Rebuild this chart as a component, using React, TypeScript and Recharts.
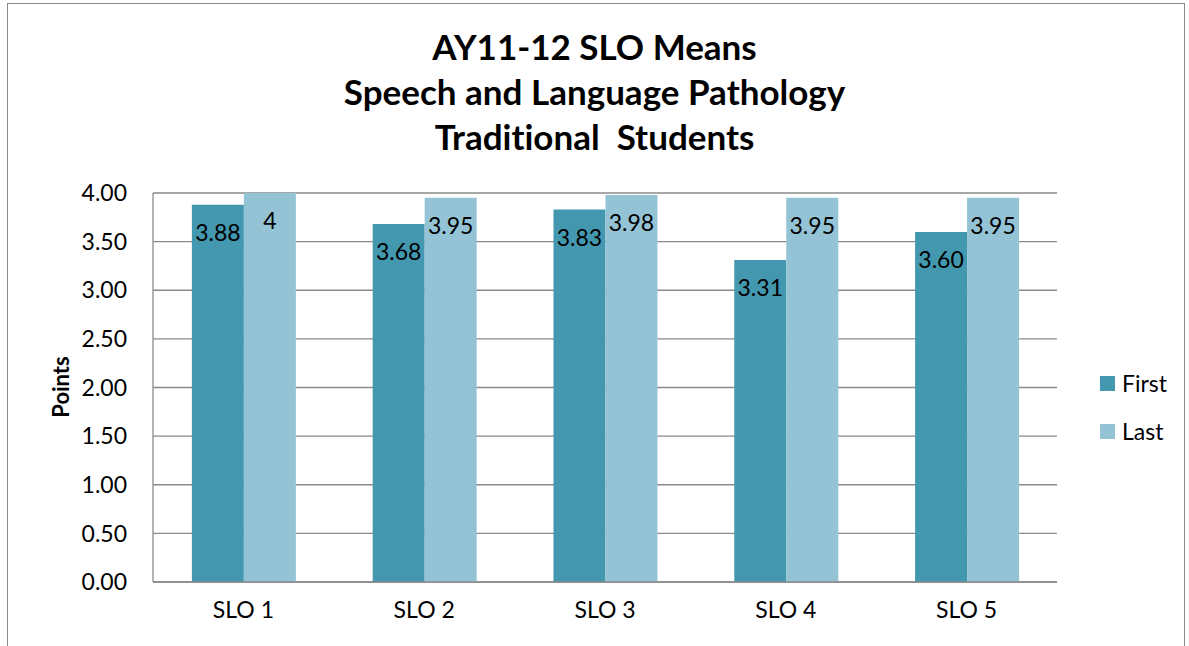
import { BarChart, Bar, XAxis, YAxis, CartesianGrid, LabelList } from 'recharts'

const categories = ['SLO 1', 'SLO 2', 'SLO 3', 'SLO 4', 'SLO 5']
const firstValues = [3.88, 3.68, 3.83, 3.31, 3.6]
const lastValues = [4, 3.95, 3.98, 3.95, 3.95]
const firstLabels = ['3.88', '3.68', '3.83', '3.31', '3.60']
const lastLabels = ['4', '3.95', '3.98', '3.95', '3.95']
const yTicks = [0, 0.5, 1, 1.5, 2, 2.5, 3, 3.5, 4]
const titleLines = ['AY11-12 SLO Means', 'Speech and Language Pathology', 'Traditional  Students']
const seriesNames = ['First', 'Last']

const FIRST_COLOR = '#4398b0'
const LAST_COLOR = '#93c3d5'
const GRID = '#8a8a8a'
const FONT = 'Lato, "Open Sans", sans-serif'

const data = categories.map((name, i) => ({
  name,
  first: firstValues[i],
  last: lastValues[i],
  firstLabel: firstLabels[i],
  lastLabel: lastLabels[i],
}))

function BarLabel(props: any) {
  const { x, y, width, value } = props
  return (
    <text x={x + width / 2} y={y + 36} textAnchor="middle" fontSize={23} fontFamily={FONT} fill="#000">
      {value}
    </text>
  )
}

function LegendBox() {
  const colors = [FIRST_COLOR, LAST_COLOR]
  return (
    <div style={{ position: 'absolute', left: 1100, top: 359, fontFamily: FONT, fontSize: 23 }}>
      {seriesNames.map((label, i) => (
        <div key={label} style={{ display: 'flex', alignItems: 'center', height: 48 }}>
          <span style={{ width: 15, height: 15, background: colors[i], marginRight: 7 }} />
          <span>{label}</span>
        </div>
      ))}
    </div>
  )
}

export default function App() {
  return (
    <div style={{ position: 'absolute', left: 0, top: 0, width: 1189, height: 646, background: '#fff', overflow: 'hidden' }}>
      <div
        style={{
          position: 'absolute',
          left: 7,
          top: 3,
          width: 1178,
          height: 700,
          border: '1px solid #8a8a8a',
          boxSizing: 'border-box',
        }}
      />
      <div
        style={{
          position: 'absolute',
          left: 0,
          width: 1189,
          top: 24,
          textAlign: 'center',
          fontFamily: FONT,
          fontWeight: 700,
          fontSize: 35,
          lineHeight: '45px',
          fontVariantLigatures: 'none',
        }}
      >
        {titleLines.map((t) => (
          <div key={t} style={{ whiteSpace: 'pre' }}>{t}</div>
        ))}
      </div>
      <div
        style={{
          position: 'absolute',
          left: 60,
          top: 387,
          transform: 'translate(-50%, -50%) rotate(-90deg)',
          fontFamily: FONT,
          fontWeight: 700,
          fontSize: 22,
        }}
      >
        Points
      </div>
      <div style={{ position: 'absolute', left: 0, top: 0 }}>
        <BarChart
          width={1189}
          height={646}
          data={data}
          margin={{ top: 193, right: 132, bottom: 34, left: 0 }}
          barCategoryGap="21.5%"
          barGap={0}
        >
          <CartesianGrid vertical={false} stroke={GRID} strokeWidth={1.3} />
          <XAxis
            dataKey="name"
            height={30}
            axisLine={{ stroke: GRID, strokeWidth: 1.3 }}
            tickLine={false}
            tickSize={0}
            tickMargin={20}
            tick={{ fill: '#000', fontSize: 23, fontFamily: FONT }}
          />
          <YAxis
            width={153}
            domain={[0, 4]}
            ticks={yTicks}
            tickFormatter={(v: number) => v.toFixed(2)}
            axisLine={{ stroke: GRID, strokeWidth: 1.3 }}
            tickLine={false}
            tickSize={0}
            tickMargin={26}
            tick={{ fill: '#000', fontSize: 23, fontFamily: FONT }}
          />
          <Bar dataKey="first" name={seriesNames[0]} fill={FIRST_COLOR} isAnimationActive={false}>
            <LabelList dataKey="firstLabel" content={<BarLabel />} />
          </Bar>
          <Bar dataKey="last" name={seriesNames[1]} fill={LAST_COLOR} isAnimationActive={false}>
            <LabelList dataKey="lastLabel" content={<BarLabel />} />
          </Bar>
        </BarChart>
      </div>
      <LegendBox />
    </div>
  )
}
